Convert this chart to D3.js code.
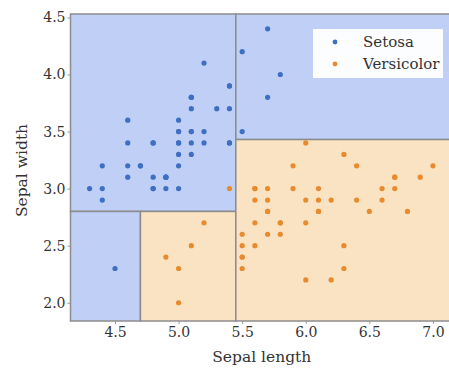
<!DOCTYPE html>
<html>
<head>
<meta charset="utf-8">
<script src="https://cdn.jsdelivr.net/npm/d3@7"></script>
<style>
  html, body { margin: 0; padding: 0; background: #fff; }
  svg { display: block; }
  text { font-family: "DejaVu Serif", serif; fill: #333; }
</style>
</head>
<body>
<svg id="chart" width="449" height="369"></svg>
<script>
// Iris sepal measurements: [sepal length, sepal width]
const setosa = [
  [5.1,3.5],[4.9,3.0],[4.7,3.2],[4.6,3.1],[5.0,3.6],[5.4,3.9],[4.6,3.4],[5.0,3.4],[4.4,2.9],[4.9,3.1],
  [5.4,3.7],[4.8,3.4],[4.8,3.0],[4.3,3.0],[5.8,4.0],[5.7,4.4],[5.4,3.9],[5.1,3.5],[5.7,3.8],[5.1,3.8],
  [5.4,3.4],[5.1,3.7],[4.6,3.6],[5.1,3.3],[4.8,3.4],[5.0,3.0],[5.0,3.4],[5.2,3.5],[5.2,3.4],[4.7,3.2],
  [4.8,3.1],[5.4,3.4],[5.2,4.1],[5.5,4.2],[4.9,3.1],[5.0,3.2],[5.5,3.5],[4.9,3.1],[4.4,3.0],[5.1,3.4],
  [5.0,3.5],[4.5,2.3],[4.4,3.2],[5.0,3.5],[5.1,3.8],[4.8,3.0],[5.1,3.8],[4.6,3.2],[5.3,3.7],[5.0,3.3]
];
const versicolor = [
  [7.0,3.2],[6.4,3.2],[6.9,3.1],[5.5,2.3],[6.5,2.8],[5.7,2.8],[6.3,3.3],[4.9,2.4],[6.6,2.9],[5.2,2.7],
  [5.0,2.0],[5.9,3.0],[6.0,2.2],[6.1,2.9],[5.6,2.9],[6.7,3.1],[5.6,3.0],[5.8,2.7],[6.2,2.2],[5.6,2.5],
  [5.9,3.2],[6.1,2.8],[6.3,2.5],[6.1,2.8],[6.4,2.9],[6.6,3.0],[6.8,2.8],[6.7,3.0],[6.0,2.9],[5.7,2.6],
  [5.5,2.4],[5.5,2.4],[5.8,2.7],[6.0,2.7],[5.4,3.0],[6.0,3.4],[6.7,3.1],[6.3,2.3],[5.6,3.0],[5.5,2.5],
  [5.5,2.6],[6.1,3.0],[5.8,2.6],[5.0,2.3],[5.6,2.7],[5.7,3.0],[5.7,2.9],[6.2,2.9],[5.1,2.5],[5.7,2.8]
];
const classNames = ["Setosa", "Versicolor"];

// Decision tree leaves: [x0, x1, y0, y1, predicted class]
const xExtent = [4.15, 7.15];
const yExtent = [1.84, 4.53];
const leaves = [
  [4.15, 5.45, 2.8, 4.53, 0],
  [4.15, 4.7, 1.84, 2.8, 0],
  [4.7, 5.45, 1.84, 2.8, 1],
  [5.45, 7.15, 3.43, 4.53, 0],
  [5.45, 7.15, 1.84, 3.43, 1]
];

const xTicks = [4.5, 5.0, 5.5, 6.0, 6.5, 7.0];
const yTicks = [2.0, 2.5, 3.0, 3.5, 4.0, 4.5];

const pointColors = ["#3f6fc2", "#e88a2e"];
const regionColors = ["#bfcff6", "#f9e3c2"];

const svg = d3.select("#chart");
const x = d3.scaleLinear().domain(xExtent).range([70.5, 452]);
const y = d3.scaleLinear().domain(yExtent).range([321, 14]);

// Regions
svg.append("g").selectAll("rect").data(leaves).join("rect")
  .attr("x", d => x(d[0]))
  .attr("y", d => y(d[3]))
  .attr("width", d => x(d[1]) - x(d[0]))
  .attr("height", d => y(d[2]) - y(d[3]))
  .attr("fill", d => regionColors[d[4]])
  .attr("stroke", "#8c8c8c")
  .attr("stroke-width", 1.5);

// Axes
const xAxis = svg.append("g").attr("transform", `translate(0,${y(yExtent[0])})`)
  .call(d3.axisBottom(x).tickValues(xTicks).tickFormat(d3.format(".1f")).tickSize(3).tickPadding(3));
const yAxis = svg.append("g").attr("transform", `translate(${x(xExtent[0])},0)`)
  .call(d3.axisLeft(y).tickValues(yTicks).tickFormat(d3.format(".1f")).tickSize(3).tickPadding(2));
[xAxis, yAxis].forEach(a => {
  a.select(".domain").remove();
  a.selectAll(".tick line").attr("stroke", "#999");
  a.selectAll(".tick text").style("font-size", "14px").style("font-family", "DejaVu Serif, serif").attr("fill", "#333");
});

// Points
const dots = svg.append("g");
[setosa, versicolor].forEach((set, i) => {
  dots.append("g").selectAll("circle").data(set).join("circle")
    .attr("cx", d => x(d[0]))
    .attr("cy", d => y(d[1]))
    .attr("r", 2.6)
    .attr("fill", pointColors[i]);
});

// Axis titles
svg.append("text").attr("x", (x(xExtent[0]) + 449) / 2 + 2).attr("y", 362)
  .attr("text-anchor", "middle").style("font-size", "15.5px").text("Sepal length");
svg.append("text").attr("transform", `translate(27,${(y(yExtent[0]) + y(yExtent[1])) / 2 + 3}) rotate(-90)`)
  .attr("text-anchor", "middle").style("font-size", "15.5px").text("Sepal width");

// Legend
const legend = svg.append("g").attr("transform", "translate(313,29)");
legend.append("rect").attr("width", 130).attr("height", 49).attr("fill", "#fff").attr("opacity", 0.95);
classNames.forEach((name, i) => {
  legend.append("circle").attr("cx", 22).attr("cy", 13 + i * 22).attr("r", 2.4).attr("fill", pointColors[i]);
  legend.append("text").attr("x", 50).attr("y", 18 + i * 22).style("font-size", "15px").text(name);
});
</script>
</body>
</html>
